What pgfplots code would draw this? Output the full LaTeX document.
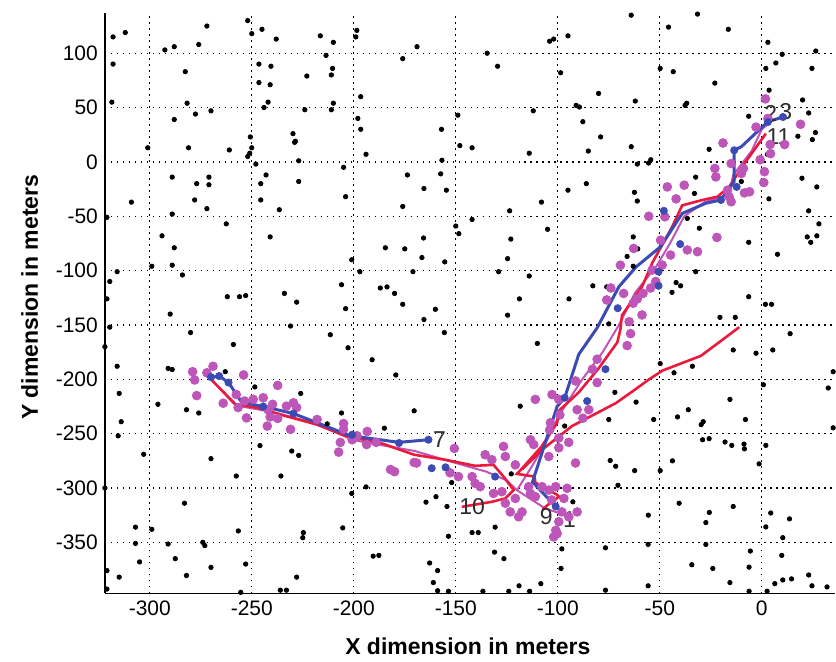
\documentclass[border=0pt]{standalone}
\usepackage{fontspec}
\setmainfont{Liberation Sans}
\usepackage{pgfplots}
\pgfplotsset{compat=1.18}

\definecolor{trkblue}{RGB}{60,75,180}
\definecolor{trkred}{RGB}{235,25,60}
\definecolor{trkmag}{RGB}{190,85,185}
\definecolor{lbl}{RGB}{45,45,45}

\begin{document}
\begin{tikzpicture}
\begin{axis}[
  width=365.5pt, height=290.5pt, scale only axis,
  xmin=-322, xmax=36, ymin=-397, ymax=137,
  axis x line=bottom, axis y line=left,
  axis line style={-, line width=0.8pt},
  xtick={-300,-250,-200,-150,-100,-50,0},
  ytick={-350,-300,-250,-200,-150,-100,-50,0,50,100},
  major tick length=0pt,
  grid=major,
  grid style={black, line width=0.6pt, dash pattern=on 0.8pt off 2.2pt},
  tick label style={font=\fontsize{10.5}{12}\selectfont},
  /pgf/number format/assume math mode=true,
  xlabel={\bfseries X dimension in meters},
  ylabel={\bfseries Y dimension in meters},
  label style={font=\fontsize{11.5}{13}\selectfont},
  xlabel style={at={(axis description cs:0.497,-0.091)}, anchor=center},
  ylabel style={at={(axis description cs:-0.103,0.51)}, anchor=center, rotate=0},
]
% sensor nodes
\addplot[only marks, mark=*, mark size=1.1pt, black] coordinates {
(-323,64) (-318,115) (-312,119) (-318,90) (-318.6,55) (-321,-51) (-309,-37) (-319.6,-110) (-316,-101) (-321,-126) (-319.6,-152) (-301,13) (-299,-96) (-292.6,103) (-288,106) (-282.6,83) (-281.7,54) (-277.6,44) (-276,108) (-272,125) (-270,47) (-288,39) (-281,13) (-289,-14) (-277,-20) (-271,-14) (-271,-21) (-278,-35) (-272,-43) (-289,-48) (-294,-68) (-288,-79) (-289,-95) (-284,-104) (-290,-140) (-262.5,-57) (-261,11) (-262,-124) (-256,-124) (-253,-123) (-252,130) (-250,118) (-245,122) (-238,113) (-246.5,90) (-240.6,88) (-246.5,73) (-241,71) (-242,55) (-244,50) (-250.7,23) (-250,13) (-251,8) (-252,5) (-248,-2) (-243,-12) (-245.6,-20) (-245.6,-35) (-241,-69) (-236.5,-44) (-234,-121) (-228,-129) (-231,-151) (-229.8,26) (-229,18) (-228.6,19) (-227,1) (-227,-18) (-223,79) (-224,48) (-216.4,116) (-213.6,98) (-210,110) (-210.4,86) (-211,80) (-210,54) (-211,48) (-205,-5) (-204,-32) (-201,-90) (-206,-113) (-204,-135) (-198.5,121) (-199,115) (-196.6,60) (-198,40) (-196.6,30) (-194,7) (-197,-101) (-187,-116) (-183.7,-115) (-180,-121) (-184.5,-79) (-175,-80) (-176,-41) (-173.7,-12) (-176,95) (-169,106) (-176,-131) (-171,-101)
(-134.6,100) (-129.5,88) (-104,111) (-102,113) (-95,116) (-98.6,82) (-80,63) (-62,56) (-64,135) (-45.7,124) (-31.5,136) (-16.4,122) (-49.8,86) (-43.4,83) (-23,72.5) (-36.8,54) (-37.6,52) (3,110) (10,99) (6.9,91) (26.5,102) (24.6,86) (2,86) (3.6,66) (20,57) (23,45) (-6.4,42) (17.7,23.6) (24.8,20.5) (26.3,27) (2.8,7) (19.7,-15) (27,-23) (23,-45) (28,-57) (22.3,-69) (24,-74) (27,-68) (3.5,-34) (7.7,-85) (1.8,-131) (4.8,-131) (-6.4,-124) (-10,-18) (-25.8,11.6) (-32.4,-14) (-33,-29) (-30.6,-61) (-36.5,-52) (-32.4,-101) (-20.5,-143) (-13,-143) (-6.4,-74) (-44,-120) (-39.8,-114) (-42,-111) (-63,-69) (-60.8,-80) (-66,-87) (-63,-96) (-64,14) (-61,-2) (-55.5,-1) (-54.4,2) (-79,23) (-85,10) (-86,-20) (-95,-26) (-87.7,37) (-89.4,50.5) (-91,52) (-62.4,-28) (-61,-36) (-108,-37) (-105,-62) (-114,8) (-112,47) (-123.6,-45) (-123,-71) (-124.6,-89) (-114,-105) (-118.8,-126) (-129,-101) (-124.6,-141) (-149,43) (-157,30) (-148,15) (-142,13) (-156.8,1.5) (-157.4,-11) (-165.6,-24.5) (-154.6,-26) (-142,-53) (-150,-59) (-148.5,-66) (-165.8,-70) (-166.6,-88) (-155.4,-92) (-160,-135.6) (-165.6,-145) (-94.5,-126) (-82.8,-114) (-76,-115) (-75,-149)
(-322,-170) (-316,-188) (-315,-213) (-314,-239) (-315.5,-252) (-303,-269) (-322,-300) (-296,-223) (-291,-190) (-289,-191) (-282,-228) (-276,-231) (-280,-157) (-259,-168) (-263,-193) (-270,-273) (-257.6,-289) (-248.5,-207) (-246,-261) (-235.7,-289) (-230.4,-266) (-227,-270) (-226,-213) (-211.5,-159) (-202.8,-171) (-206,-231) (-213,-241) (-191,-182) (-179.4,-196) (-185,-245) (-170.4,-229) (-194,-299) (-201,-305) (-283,-314) (-307,-336) (-307,-351) (-299,-338) (-291,-351.5) (-274,-350) (-273,-353) (-305,-368) (-287.5,-365) (-321,-376) (-315,-382) (-321,-393) (-282,-380.5) (-270,-373) (-256.6,-339.5) (-253,-370) (-255.4,-396) (-236,-394) (-233,-394) (-228,-382) (-224.7,-341) (-225,-345.7) (-205.4,-336.7) (-190.5,-362.7) (-187.7,-362)
(-155.6,-157) (-110,-167) (-72,-212) (-75,-237) (-61.6,-221) (-49.8,-185.5) (-43,-194) (-34,-188) (-14,-173) (-2.8,-176) (5.4,-173) (13.9,-158) (35,-193) (0.8,-205) (32.6,-208) (-15.6,-218.5) (-53,-237) (-41.3,-234.6) (-36,-228) (-29.7,-241.7) (-28.7,-239) (-8,-237) (35,-244.6) (-29,-255.6) (-25.8,-254.6) (-18,-257.7) (-14.7,-260.8) (-8.7,-259.6) (-8.5,-264) (2,-260.8) (-1.3,-277.8) (-49.8,-284) (-43.8,-275) (-74.3,-274.7) (-71.6,-280) (-62.3,-284) (-70.5,-297.5) (-40.5,-314) (-25.7,-322.5) (-27.4,-331.8) (-14,-317) (4.4,-323) (2,-335.8) (13.6,-328.4) (10.3,-345.7) (9.8,-362) (-27.4,-351.9) (-55.6,-325) (-55.7,-351.9) (-76.6,-355) (-34.3,-370.6) (-24,-374) (-6.2,-372.8) (-5.6,-358) (-15.6,-387) (-6.2,-395) (2.6,-395) (6.4,-388) (10.3,-384.6) (14.6,-383.6) (23,-380) (24.6,-390) (32,-391) (-55.7,-390) (-76.6,-394) (-98,-356) (-98.4,-374) (-92.6,-312.7) (-96.6,-243) (-118.4,-224.7) (-122.8,-287) (-130.7,-336) (-131,-359) (-126.4,-365) (-119,-390) (-113.8,-395) (-108.3,-388) (-124,-395) (-136.7,-395) (-142,-341) (-139,-341) (-153.6,-344.4) (-162.8,-369) (-158.9,-376) (-161,-387) (-158.9,-394.5) (-153.6,-395) (-164.6,-313) (-159.7,-308) (-154.3,-317) (-152,-295)
};
% estimated positions
\addplot[only marks, mark=*, mark size=2.2pt, trkmag, mark options={draw=trkmag, fill=trkmag}] coordinates {
(-279,-193) (-278,-200.6) (-277,-215) (-269,-188) (-272,-194) (-264,-222) (-254,-196) (-256.7,-226) (-257.6,-214) (-252.6,-235.5) (-253.5,-220) (-249.3,-218.5) (-244.4,-217) (-242,-228) (-239.8,-223) (-237.3,-205.6) (-241,-234.6) (-242.4,-243) (-237.3,-236) (-231,-246) (-233,-224.7) (-229.6,-221.6) (-228,-226) (-218,-237) (-205,-240.7) (-205,-246) (-206.6,-258) (-207.4,-267) (-200.8,-255.6) (-198.4,-252) (-193.4,-248) (-189,-258) (-182,-283) (-180,-285) (-170.4,-276.5) (-193.7,-260)
(-64.3,-158) (-66,-169) (-80.7,-181.5) (-83,-190.7) (-90.5,-228) (-84.8,-228) (-80.7,-203) (-91.3,-201.5) (-102.8,-214) (-111,-218.5) (-99.5,-218.5) (-103.6,-240) (-113.4,-255.6) (-126.6,-261.7) (-125.7,-271) (-120.8,-278.7) (-99.5,-263) (-94.6,-258) (-91.3,-277) (-99.5,-254) (-135.6,-269.4) (-132.3,-274) (-150.7,-263.6) (-169.2,-277) (-152.8,-286) (-148.7,-289.5) (-142,-289.5) (-140.5,-295.7) (-138,-298.8) (-131.5,-305) (-127.4,-303.4) (-125.7,-314) (-123.3,-322) (-117.5,-322) (-119.2,-326.5) (-120.8,-309.6) (-114.3,-298.8) (-113.4,-305) (-111,-308) (-107.7,-298.8) (-104.4,-301.9) (-101,-298.8) (-95.4,-300.3) (-97,-309.6) (-103,-311) (-98,-322) (-90.5,-322) (-94.6,-326.5) (-101,-339) (-100.3,-342) (-102,-345) (-99.5,-331) (-111.8,-260) (-104.4,-271) (-87.7,-235.8) (-99,-232.8) (-104,-246.6)
(1.8,58) (3,40) (-2.8,32) (19,34.6) (11.2,16) (4.3,7.6) (4.1,16) (-0.8,2) (1.3,-9) (1,-19) (-6,-27.5) (-8.5,-28.5) (-15,-36.7) (-16,-32) (-10,-10.7) (-15,-1.5) (-19,17.4) (-23,-6) (-22.5,-13.8) (-16.8,-26) (-38,-21.4) (-46.3,-23) (-42,-34) (-55.4,-50) (-47.5,-50.5) (-49.6,-72) (-44.7,-85.7) (-48.8,-94.9) (-53.7,-99.4) (-52,-110) (-54.5,-116) (-36.5,-81) (-31.5,-82.6) (-22,-69.5) (-62.8,-79.6) (-69.3,-95) (-61,-126) (-58.7,-140.8) (-65,-147) (-76,-127) (-74,-116) (-67.7,-121) (-58.2,-121) (-63,-130) (-9,-6)
};
% true path
\addplot[trkmag, line width=1pt] coordinates {
(-272,-196) (-258,-224) (-240,-230) (-220,-240) (-200,-256) (-170,-266) (-150,-277) (-135,-285) (-125,-293) (-120,-302) (-106,-319) (-96,-325)
};
\addplot[trkmag, line width=1pt] coordinates {
(-120,-302) (-112,-278) (-105,-255) (-99,-232) (-88,-200) (-78,-175) (-70,-150) (-62,-120) (-52,-97) (-45,-75) (-38,-50) (-28,-37) (-16,-30) (-14,-12) (-5,10) (0,30) (5,38)
};
% red tracks
\addplot[trkred, line width=1.3pt] coordinates {
(-271,-198) (-258,-223) (-247.7,-226) (-233,-234) (-218,-241.7) (-203.3,-252.5) (-186.8,-258.6) (-170.4,-269.4) (-155.2,-274) (-140.5,-279.6) (-131.5,-278.7) (-126.6,-289.5) (-121.6,-301.9) (-125.7,-309.6) (-132.3,-312.7) (-147,-317.3)
};
\addplot[trkred, line width=1.3pt] coordinates {
(2,26) (-8.5,-1.5) (-16,-23) (-21.7,-32) (-29,-35) (-39,-40) (-44,-60) (-53.7,-93) (-58.7,-115) (-68.5,-141) (-69.3,-154) (-70.8,-166) (-80,-190) (-89.7,-212) (-99.5,-229) (-100.3,-240) (-108,-262) (-117.5,-282) (-120,-287) (-111.4,-289.5) (-111,-295) (-100.5,-306) (-99.4,-308) (-104.9,-315.5) (-107.5,-320)
};
\addplot[trkred, line width=1.3pt] coordinates {
(-11,-152) (-29.8,-178.4) (-48.7,-192) (-55.2,-200) (-61.8,-209) (-71.6,-222) (-93,-243) (-107.7,-264.8) (-117.5,-283)
};
% blue tracks
\addplot[trkblue, line width=1.5pt] coordinates {
(-163.4,-255.6) (-177.8,-258) (-201.7,-251.9) (-229.6,-231.5) (-244.4,-225) (-255,-221) (-261.4,-203) (-266,-197) (-270.7,-198.5)
};
\addplot[trkblue, line width=1.5pt] coordinates {
(-101,-317) (-112.4,-294.4) (-100.3,-225) (-96.6,-217) (-89.7,-177) (-80.8,-153) (-70,-114.7) (-61.5,-96.4) (-49.6,-78) (-39,-47.4) (-27.4,-38) (-20,-35) (-13.5,-18) (-13.5,10.7) (-10,14) (3,37) (10.4,41.3)
};
\addplot[only marks, mark=*, mark size=1.8pt, trkblue] coordinates {
(-266,-197) (-261.4,-203) (-244.4,-225) (-229.6,-231.5) (-200.8,-251) (-177.8,-258.6) (-163.4,-255.6) (-270,-198)
(-101,-317) (-96.6,-217) (-85.6,-220) (-76.6,-190.7) (-70.6,-134.6) (-50.6,-114) (-50.6,-101) (-40,-75.6) (-48,-45) (-20,-35) (-12.3,-23) (-13.5,10.7) (3,36.7) (10.4,41.3)
(-161.8,-281.8) (-155,-281) (-130.7,-289.5)
};
% node numbers
\begin{scope}[every node/.style={text=lbl, font=\fontsize{11.5}{13}\selectfont, inner sep=0pt}]
\node at (axis cs:-158,-255.8) {7};
\node at (axis cs:-142,-317) {10};
\node at (axis cs:-105.6,-326) {9};
\node at (axis cs:-94.2,-329) {1};
\node at (axis cs:4.4,45) {2};
\node at (axis cs:11.8,46.5) {3};
\node at (axis cs:8.2,23) {11};
\end{scope}
\end{axis}
\path (current axis.south west) ++(-52.5pt,-32pt) rectangle ++(418pt,329pt);
\end{tikzpicture}
\end{document}
